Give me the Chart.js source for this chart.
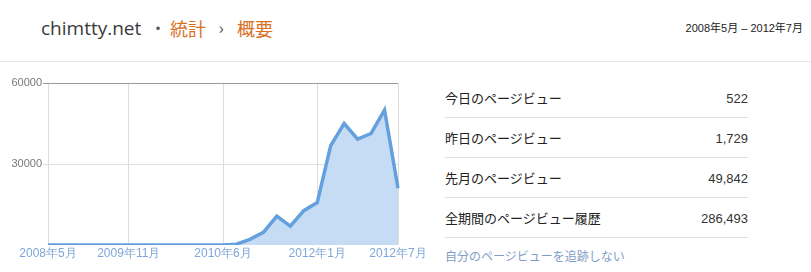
<!DOCTYPE html>
<html>
<head>
<meta charset="utf-8">
<script src="https://cdn.jsdelivr.net/npm/chart.js@4"></script>
<style>
  body { margin: 0; width: 811px; height: 272px; background: #fff; overflow: hidden;
         font-family: Arial, "Liberation Sans", "Noto Sans CJK JP", sans-serif; position: relative; }
  .t { position: absolute; top: 14px; line-height: 28px; white-space: nowrap;
       font-family: "Open Sans", "Noto Sans CJK JP", sans-serif; }
  #site { left: 41px; font-size: 19px; color: #3a3a3a; }
  .o { color: #d8701e; font-size: 18px; font-family: "Noto Sans CJK JP", sans-serif; font-weight: 400; }
  .s { color: #555; font-size: 16px; }
  #range { position: absolute; right: 8px; top: 19px; font-size: 11px; color: #222; }
  #hr { position: absolute; left: 0; top: 61px; width: 811px; height: 1px; background: #e6e6e6; }
  #chartBox { position: absolute; left: 0; top: 70px; width: 440px; height: 200px; }
  #stats { position: absolute; left: 445px; top: 78px; width: 303px; }
  .row { height: 40px; box-sizing: border-box; border-bottom: 1px solid #dedede;
         padding-top: 2px; line-height: 38px; font-size: 13px; color: #222; }
  .row span { float: right; color: #333; }
  #link { position: absolute; left: 445px; top: 247px; font-size: 12px; color: #7f9cc6; }
</style>
</head>
<body>
<div class="t" id="site">chimtty.net</div>
<div class="t s" style="left:150px;">・</div>
<div class="t o" style="left:170px;">統計</div>
<div class="t s" style="left:219px;">›</div>
<div class="t o" style="left:237px;">概要</div>
<div id="range">2008年5月 – 2012年7月</div>
<div id="hr"></div>
<div id="chartBox"><canvas id="pvChart" width="440" height="200"></canvas></div>
<div id="stats"></div>
<div id="link">自分のページビューを追跡しない</div>
<script>
// x categories (only some carry a label)
const labels = ["2008年5月", "", "", "", "", "", "2009年11月", "", "", "", "", "", "", "2010年6月",
  "", "", "", "", "", "", "2012年1月", "", "", "", "", "", "2012年7月"];
const pageviews = [0, 0, 0, 0, 0, 0, 0, 0, 0, 0, 0, 0, 0, 0,
  300, 2100, 4700, 10700, 7000, 12700, 15700, 36800, 45000, 39200, 41300, 50000, 21000];
const yTicks = [30000, 60000];

const statLabels = ["今日のページビュー", "昨日のページビュー", "先月のページビュー", "全期間のページビュー履歴"];
const statValues = ["522", "1,729", "49,842", "286,493"];

const stats = document.getElementById("stats");
statLabels.forEach(function (l, i) {
  const d = document.createElement("div");
  d.className = "row";
  d.innerHTML = l + "<span>" + statValues[i] + "</span>";
  stats.appendChild(d);
});

const ctx = document.getElementById("pvChart").getContext("2d");
new Chart(ctx, {
  type: "line",
  data: {
    labels: labels,
    datasets: [{
      data: pageviews,
      borderColor: "#64a0de",
      backgroundColor: "#c6dcf4",
      borderWidth: 3.5,
      fill: "origin",
      tension: 0,
      pointRadius: 0,
      borderJoinStyle: "miter"
    }]
  },
  options: {
    responsive: false,
    animation: false,
    layout: { padding: { top: 13, right: 42, left: 0, bottom: 0 } },
    plugins: { legend: { display: false }, tooltip: { enabled: false } },
    scales: {
      x: {
        offset: false,
        border: { display: false },
        grid: {
          drawTicks: false,
          color: function (c) { return c.tick && c.tick.label ? "#dcdcdc" : "rgba(0,0,0,0)"; }
        },
        ticks: {
          autoSkip: false, maxRotation: 0, padding: 1,
          color: "#7ea6d8", font: { size: 12, family: "Arial" }
        },
        afterFit: function (s) { s.height = 25; }
      },
      y: {
        min: 0, max: 60000,
        border: { display: false },
        grid: {
          tickLength: 5,
          color: function (c) { return c.tick.value === 60000 ? "#9a9a9a" : (c.tick.value === 0 ? "rgba(0,0,0,0)" : "#dedede"); }
        },
        afterBuildTicks: function (s) { s.ticks = [0].concat(yTicks).map(function (v) { return { value: v }; }); },
        ticks: {
          padding: 1,
          color: "#777", font: { size: 11, family: "Arial" },
          callback: function (v) { return v === 0 ? "" : String(v); }
        },
        afterFit: function (s) { s.width = 48; }
      }
    }
  }
});
</script>
</body>
</html>
